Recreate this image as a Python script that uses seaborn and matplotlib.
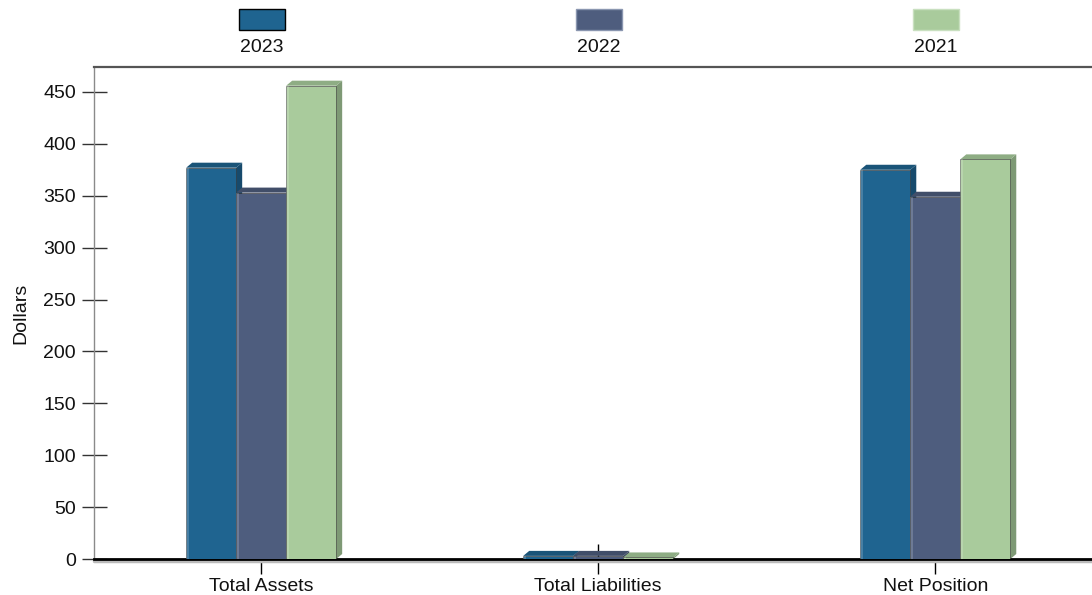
import numpy as np
import pandas as pd
import matplotlib
matplotlib.use("Agg")
import matplotlib.pyplot as plt
from matplotlib.patches import Polygon, Rectangle
import seaborn as sns

# datos
categories = ["Total Assets", "Total Liabilities", "Net Position"]
years = ["2023", "2022", "2021"]
values_2023 = [377, 3, 375]
values_2022 = [353, 3, 349]
values_2021 = [456, 1.5, 385]
y_ticks = [0, 50, 100, 150, 200, 250, 300, 350, 400, 450]

colors = ["#1F6490", "#4E5D7E", "#A9CB9C"]
side_colors = ["#174A6C", "#3A465F", "#7E9975"]
top_colors = ["#1A5478", "#414E69", "#8EAD84"]

df = pd.DataFrame({
    "category": categories * 3,
    "year": [y for y in years for _ in categories],
    "value": values_2023 + values_2022 + values_2021,
})

sns.set_theme(style="white")
plt.rcParams["font.family"] = ["Liberation Sans", "DejaVu Sans"]
plt.rcParams["text.color"] = "#111111"
plt.rcParams["axes.labelcolor"] = "#111111"
plt.rcParams["xtick.labelcolor"] = "#111111"
plt.rcParams["ytick.labelcolor"] = "#111111"

W, H = 1092, 595
fig = plt.figure(figsize=(W / 100, H / 100), dpi=100)
ax = fig.add_axes([94 / W, 36 / H, 998 / W, 492 / H])

sns.barplot(data=df, x="category", y="value", hue="year", hue_order=years,
            palette=colors, saturation=1, width=0.445, gap=0,
            edgecolor="#2b2b2b", linewidth=0.4, legend=False, ax=ax, zorder=3)

ax.set_xlim(-0.496, 2.465)
ax.set_ylim(0, 474)

# efecto 3D a partir de las barras dibujadas
dx = 6 / 337
dy = 5 / 1.0378
for i, patch in enumerate(ax.patches[:]):
    k = i // len(categories)
    x, w, h = patch.get_x(), patch.get_width(), patch.get_height()
    side = Polygon([(x + w, 0), (x + w + dx, dy), (x + w + dx, h + dy), (x + w, h)],
                   closed=True, facecolor=side_colors[k], edgecolor="none", zorder=2)
    top = Polygon([(x, h), (x + dx, h + dy), (x + w + dx, h + dy), (x + w, h)],
                  closed=True, facecolor=top_colors[k], edgecolor="none", zorder=2)
    ax.add_patch(side)
    ax.add_patch(top)
    # brillo en el borde izquierdo
    ax.add_patch(Rectangle((x, 0), w * 0.06, h, facecolor="white", alpha=0.18,
                           edgecolor="none", zorder=4))

ax.set_yticks(y_ticks)
ax.set_xlabel("")
ax.set_ylabel("Dollars", fontsize=14, labelpad=10)
ax.tick_params(axis="y", direction="inout", length=18, width=1, color="#333333",
               labelsize=14, pad=4, left=True)
ax.tick_params(axis="x", direction="inout", length=22, width=1, color="black",
               labelsize=14, pad=3, bottom=True)

ax.spines["right"].set_visible(False)
ax.spines["left"].set_color("#8a8a8a")
ax.spines["left"].set_linewidth(1)
ax.spines["top"].set_color("#555555")
ax.spines["top"].set_linewidth(1.6)
ax.spines["bottom"].set_color("black")
ax.spines["bottom"].set_linewidth(2)
ax.axhline(-2.2, color="#bbbbbb", lw=2.5, zorder=1, clip_on=False)

# leyenda arriba, cuadro encima del texto
legend_x = [262, 599, 936]
edges = ["black", "#8a96b0", "#c9e0c0"]
for year, color, edge, cx in zip(years, colors, edges, legend_x):
    fig.patches.append(Rectangle(((cx - 23) / W, 1 - 30 / H), 46 / W, 21 / H,
                                 transform=fig.transFigure, facecolor=color,
                                 edgecolor=edge, linewidth=1))
    fig.text(cx / W, 1 - 47 / H, year, ha="center", va="center", fontsize=14)

fig.savefig("out.png", dpi=100)
